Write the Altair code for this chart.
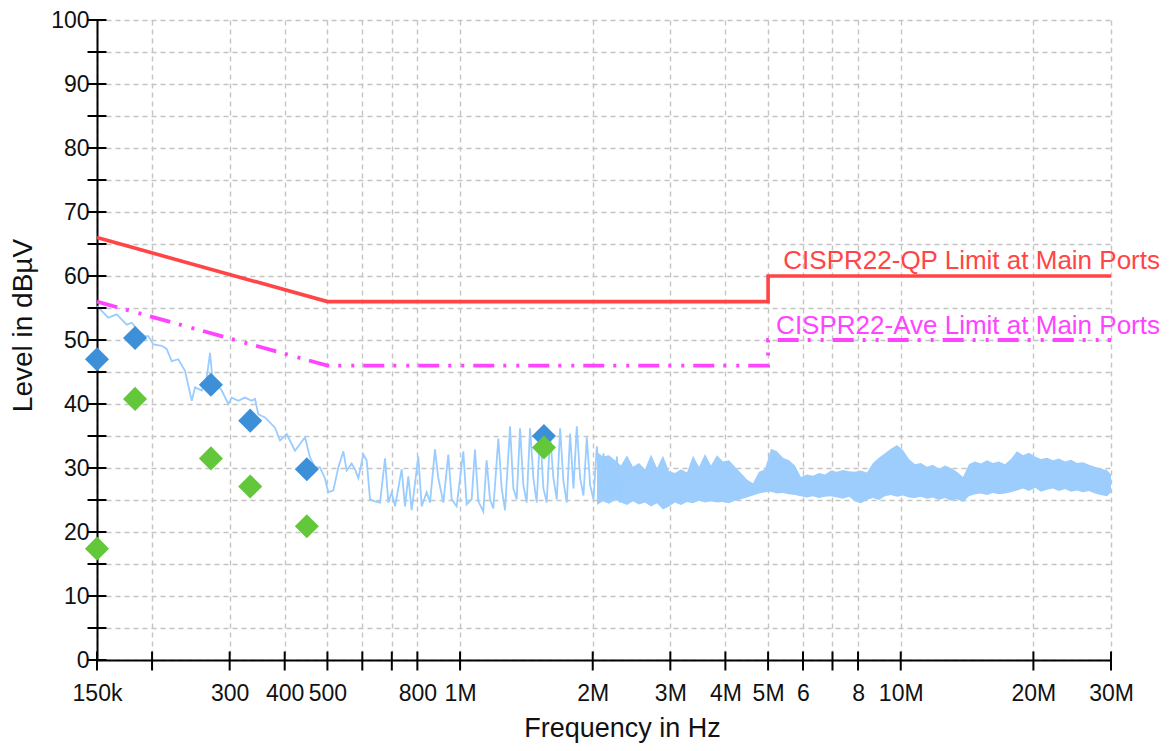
import altair as alt
import pandas as pd

FONT = "Liberation Sans, Arial, sans-serif"

# ---- axis ticks ----
x_tick_values = [0.15, 0.2, 0.3, 0.4, 0.5, 0.6, 0.7, 0.8, 1, 2, 3, 4, 5, 6, 7, 8, 10, 20, 30]
x_tick_labels = ["150k", "", "300", "400", "500", "", "", "800", "1M", "2M", "3M", "4M",
                 "5M", "6", "", "8", "10M", "20M", "30M"]
y_tick_values = [0, 5, 10, 15, 20, 25, 30, 35, 40, 45, 50, 55, 60, 65, 70, 75, 80, 85, 90, 95, 100]

# ---- limit lines (MHz, dBuV) ----
qp_f = [0.15, 0.5, 5, 5, 30]
qp_L = [66, 56, 56, 60, 60]
ave_f = [0.15, 0.5, 5, 5, 30]
ave_L = [56, 46, 46, 50, 50]

# ---- measured final results ----
meas_f = [0.15, 0.183, 0.272, 0.334, 0.449, 1.55]
qp_meas = [47.0, 50.3, 43.0, 37.4, 29.8, 35.0]
av_meas = [17.4, 40.8, 31.5, 27.1, 20.9, 33.2]

# ---- pre-scan trace (spiky part) ----
trace_f = [0.150, 0.1591, 0.1663, 0.1752, 0.1798, 0.1878, 0.1928, 0.1961, 0.2013, 0.2104,
           0.2159, 0.2216, 0.2294, 0.2376, 0.2461, 0.2504, 0.2593, 0.2661, 0.2708, 0.2740,
           0.2878, 0.2980, 0.3032, 0.3138, 0.3250, 0.3366, 0.3425, 0.3484, 0.3608, 0.3802,
           0.3903, 0.4042, 0.4221, 0.4447, 0.4564, 0.4686,
           0.4809, 0.4935, 0.5023, 0.5157, 0.5293, 0.5434, 0.5529, 0.5675, 0.5775, 0.5877,
           0.6032, 0.6138, 0.6247, 0.6412, 0.6582, 0.6756, 0.6875, 0.6996, 0.7119, 0.7371,
           0.7499, 0.7631, 0.7765, 0.8040, 0.8182, 0.8398, 0.8546, 0.8772, 0.8925, 0.9162,
           0.9404, 0.9570, 0.9822, 1.0171, 1.0349, 1.0624, 1.0810, 1.1000, 1.1290, 1.1489,
           1.1692, 1.1897, 1.2213, 1.2428, 1.2647, 1.2982, 1.3210, 1.3443, 1.3679, 1.3920,
           1.4165, 1.4414, 1.4668, 1.4926, 1.5189, 1.5456, 1.5728, 1.6005, 1.6287, 1.6573,
           1.6865, 1.7162, 1.7464, 1.7771, 1.8084, 1.8402, 1.8726, 1.9056, 1.9391, 1.9732,
           2.0080, 2.0433, 2.0792, 2.1158, 2.1531, 2.1910, 2.2295, 2.2688, 2.3068]
trace_L = [55.3, 53.5, 54.0, 52.4, 52.7, 51.2, 50.6, 50.6, 49.3, 49.1,
           48.6, 46.7, 47.0, 45.2, 40.5, 42.6, 42.1, 44.1, 48.0, 44.1,
           42.1, 40.0, 41.0, 40.5, 41.0, 40.5, 40.8, 38.4, 37.9, 36.3,
           34.3, 35.3, 32.7, 34.8, 31.7, 30.1,
           30.1, 28.4, 26.2, 26.5, 30.1, 32.6, 29.6, 30.7, 29.8, 28.4,
           32.1, 31.2, 25.1, 24.8, 24.6, 31.5, 24.6, 26.2, 24.0, 29.8,
           24.0, 28.7, 23.4, 31.8, 24.0, 26.2, 24.6, 32.9, 28.4, 24.6,
           32.1, 25.1, 24.0, 32.6, 24.3, 25.1, 32.9, 24.8, 23.2, 31.2,
           25.1, 23.7, 34.6, 26.8, 23.4, 36.5, 26.8, 25.1, 36.2, 27.3,
           24.6, 36.2, 28.4, 24.6, 35.7, 26.8, 24.6, 35.1, 28.4, 25.1,
           36.2, 27.9, 24.6, 35.4, 26.8, 36.5, 28.4, 25.7, 34.8, 27.3,
           25.1, 33.4, 26.8, 32.3, 26.2, 31.2, 25.7, 31.8, 24.6]

# ---- pre-scan trace (dense part, min / max envelope) ----
band_f = [2.045, 2.110, 2.177, 2.247, 2.318, 2.392, 2.468, 2.547, 2.628, 2.712,
          2.798, 2.887, 2.979, 3.074, 3.172, 3.273, 3.377, 3.485, 3.596, 3.710,
          3.828, 3.950, 4.076, 4.206, 4.340, 4.478, 4.620, 4.768, 4.919, 5.076,
          5.238, 5.404, 5.576, 5.754, 5.937, 6.126, 6.321, 6.522, 6.730, 6.944,
          7.166, 7.394, 7.629, 7.872, 8.123, 8.381, 8.648, 8.924, 9.208, 9.501,
          9.804, 10.116, 10.438, 10.771, 11.114, 11.468, 11.833, 12.210, 12.599, 13.000,
          13.414, 13.841, 14.282, 14.737, 15.206, 15.691, 16.190, 16.706, 17.238, 17.787,
          18.354, 18.938, 19.541, 20.164, 20.806, 21.469, 22.152, 22.858, 23.586, 24.337,
          25.112, 25.912, 26.737, 27.589, 28.467, 29.374, 30.0]
band_hi = [32.5, 31.8, 32.0, 31.2, 30.4, 32.0, 30.2, 30.8, 29.8, 32.1,
           30.0, 31.9, 29.5, 29.2, 29.8, 29.3, 31.9, 30.2, 32.2, 30.4,
           32.0, 31.0, 31.2, 30.2, 29.2, 28.2, 27.6, 29.4, 29.8, 33.0,
           32.6, 31.6, 31.2, 30.4, 28.6, 29.0, 28.8, 29.2, 29.0, 29.6,
           29.4, 29.7, 29.5, 29.4, 29.6, 29.3, 30.8, 31.6, 32.3, 33.0,
           33.6, 32.8, 31.4, 30.6, 30.8, 30.2, 30.5, 29.9, 30.4, 30.0,
           29.4, 28.6, 30.6, 31.0, 30.7, 31.2, 30.8, 31.0, 30.6, 31.4,
           32.6, 32.0, 32.4, 31.8, 31.4, 31.6, 31.2, 31.5, 31.0, 31.3,
           30.8, 30.9, 30.5, 30.2, 29.9, 29.7, 29.0]
band_lo = [24.2, 24.8, 24.4, 25.0, 24.6, 24.2, 24.8, 24.3, 24.6, 24.0,
           24.5, 23.5, 24.0, 24.6, 24.2, 24.7, 24.5, 24.9, 24.6, 24.8,
           24.6, 24.7, 24.5, 24.9, 25.1, 25.4, 25.7, 26.0, 26.2, 26.3,
           26.0, 26.1, 25.9, 25.8, 25.6, 25.4, 25.6, 25.3, 25.5, 25.6,
           25.4, 25.2, 25.5, 24.8, 24.5, 25.0, 25.3, 25.0, 25.6, 25.8,
           25.5, 25.7, 25.4, 25.3, 25.5, 25.2, 25.4, 25.0, 25.3, 24.9,
           25.1, 24.7, 25.6, 25.9, 26.0, 25.8, 26.1, 25.9, 26.0, 26.2,
           26.5, 26.8, 26.4, 26.9, 26.3, 26.6, 26.8, 26.4, 26.7, 26.3,
           26.5, 26.2, 26.4, 26.0, 25.8, 25.6, 26.2]

label_text = ["CISPR22-QP Limit at Main Ports", "CISPR22-Ave Limit at Main Ports"]
label_f = [30, 30]
label_L = [61.05, 50.9]

# ---- data frames ----
n = min(len(band_f), len(band_hi), len(band_lo))
band_df = pd.DataFrame({"f": band_f[:n], "lo": band_lo[:n], "hi": band_hi[:n]})
m = min(len(trace_f), len(trace_L))
trace_df = pd.DataFrame({"f": trace_f[:m], "L": trace_L[:m]})
qp_df = pd.DataFrame({"f": qp_f, "L": qp_L, "i": list(range(len(qp_f)))})
ave_df = pd.DataFrame({"f": ave_f, "L": ave_L, "i": list(range(len(ave_f)))})
qpm_df = pd.DataFrame({"f": meas_f, "L": qp_meas})
avm_df = pd.DataFrame({"f": meas_f, "L": av_meas})
xt_df = pd.DataFrame({"f": x_tick_values})
yt_df = pd.DataFrame({"L": y_tick_values})
lab_df = pd.DataFrame({"f": label_f, "L": label_L, "t": label_text,
                       "c": ["#ff4545", "#ff44ff"]})

# ---- scales & axes ----
x_label_expr = " : ".join(
    [f"datum.value == {v} ? '{t}'" for v, t in zip(x_tick_values, x_tick_labels) if t]
) + " : ''"

x_scale = alt.Scale(type="log", domain=[0.15, 30], nice=False)
y_scale = alt.Scale(domain=[0, 100], nice=False, zero=True)

grid_kw = dict(grid=True, gridDash=[5, 4], gridColor="#c4c4c4", gridWidth=1.4,
               ticks=False, tickSize=0, domainColor="#000000", domainWidth=2,
               labelFont=FONT, labelFontSize=23, labelColor="#111111",
               labelOverlap=False, labelFlush=False, labelBound=False,
               titleFont=FONT, titleFontWeight="normal", titleColor="#111111")

x_axis = alt.Axis(values=x_tick_values, labelExpr=x_label_expr, title="Frequency in Hz",
                  labelPadding=22, titleX=525, titleY=76, titleAlign="center",
                  titleBaseline="alphabetic", titleFontSize=27, **grid_kw)
y_axis = alt.Axis(values=y_tick_values,
                  labelExpr="datum.value % 10 == 0 ? datum.label : ''",
                  title="Level in dBµV", labelPadding=8, titleX=-74, titleY=305,
                  titleAngle=-90, titleAlign="center", titleBaseline="middle",
                  titleFontSize=28, **grid_kw)

X = alt.X("f:Q", scale=x_scale, axis=x_axis)
Y = alt.Y("L:Q", scale=y_scale, axis=y_axis)

band = alt.Chart(band_df).mark_area(color="#9ccdfc", opacity=1).encode(
    x=X, y=alt.Y("lo:Q", scale=y_scale, axis=y_axis), y2="hi:Q")

trace = alt.Chart(trace_df).mark_line(color="#99ccff", strokeWidth=1.8).encode(x=X, y=Y)

qp_line = alt.Chart(qp_df).mark_line(color="#ff4545", strokeWidth=3.6).encode(
    x=X, y=Y, order="i:Q")
ave_line = alt.Chart(ave_df).mark_line(color="#ff44ff", strokeWidth=3.8,
                                       strokeDash=[21, 9, 3, 10, 3, 9]).encode(
    x=X, y=Y, order="i:Q")

y_ticks = alt.Chart(yt_df).mark_tick(orient="horizontal", size=19, thickness=2,
                                     color="#000000", opacity=1).encode(
    y=Y, x=alt.value(0))
x_ticks = alt.Chart(xt_df).mark_tick(orient="vertical", size=19, thickness=2,
                                     color="#000000", opacity=1).encode(
    x=X, y=alt.value(641))

qp_pts = alt.Chart(qpm_df).mark_point(shape="diamond", filled=True, size=580,
                                      color="#3d8fd8", opacity=1).encode(x=X, y=Y)
av_pts = alt.Chart(avm_df).mark_point(shape="diamond", filled=True, size=580,
                                      color="#62c83a", opacity=1).encode(x=X, y=Y)

labels = alt.Chart(lab_df).mark_text(align="right", baseline="alphabetic", dx=49,
                                     font=FONT, fontSize=26).encode(
    x=X, y=Y, text="t:N", color=alt.Color("c:N", scale=None))

chart = alt.layer(band, trace, qp_line, ave_line, y_ticks, x_ticks, qp_pts, av_pts,
                  labels).properties(
    width=1014, height=640,
    autosize=alt.AutoSizeParams(type="none"),
    padding={"left": 89, "top": 12, "right": 54, "bottom": 83},
    background="#ffffff",
).configure_view(strokeWidth=0)

chart.save("out.html", embed_options={"renderer": "svg", "actions": False})
